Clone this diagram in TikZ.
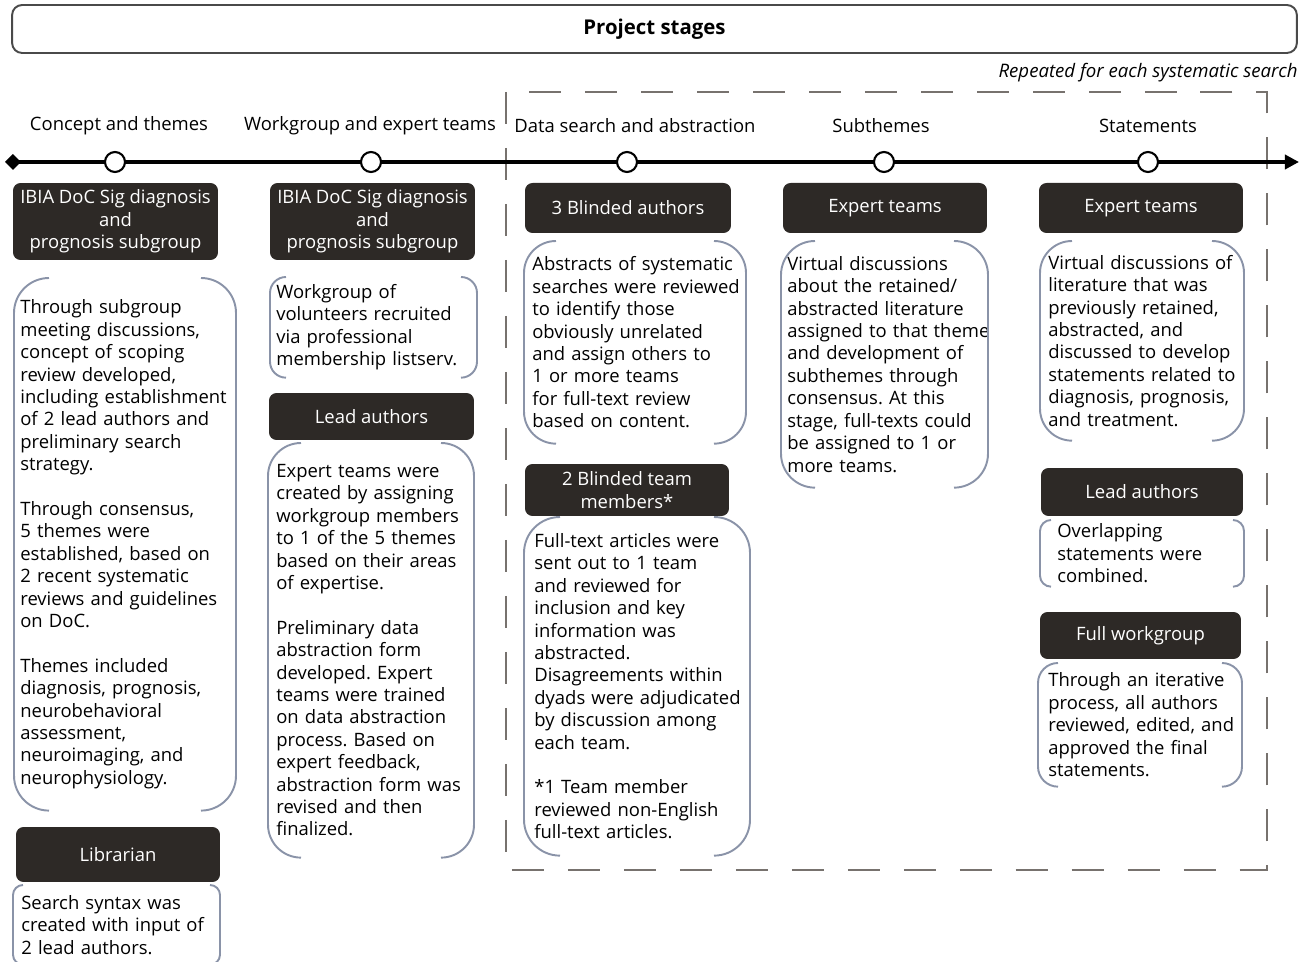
\documentclass[tikz,border=0pt]{standalone}
\usepackage{fontspec}
\setmainfont{Open Sans}
\usetikzlibrary{positioning, arrows.meta, calc}
\definecolor{boxdark}{HTML}{2D2926}
\definecolor{brkgray}{HTML}{8A93A8}
\definecolor{dashgray}{HTML}{77726E}
\definecolor{framegray}{HTML}{4A4A4A}
\frenchspacing
\tikzset{
  darkbox/.style={fill=boxdark, text=white, rounded corners=0.15cm, align=center, inner sep=0pt},
  brkbox/.style={align=left, inner sep=0pt, anchor=north west},
  brk/.style={draw=brkgray, line width=1.1pt},
  stagedot/.style={draw, circle, fill=white, line width=1.2pt, minimum size=0.4cm, inner sep=0pt},
  stagelabel/.style={inner sep=0pt}
}
% brackets round a text node: name, radius, left gap, full width
\newcommand{\brackets}[4]{%
  \draw[brk] ($(#1.north west)+(-#3+#2,0)$) arc[start angle=90, end angle=180, radius=#2]
    -- ($(#1.south west)+(-#3,#2)$) arc[start angle=180, end angle=270, radius=#2];
  \draw[brk] ($(#1.north west)+(#4-#3-#2,0)$) arc[start angle=90, end angle=0, radius=#2]
    -- ($(#1.south west)+(#4-#3,#2)$) arc[start angle=0, end angle=-90, radius=#2];
}
\begin{document}
\begin{tikzpicture}[x=0.02cm, y=0.02cm, font=\fontsize{10.5}{12.75}\selectfont]
    \useasboundingbox (0,0) rectangle (1299,-962);

    %% header
    \node[draw=framegray, line width=1.1pt, rounded corners=0.2cm, minimum width=25.7cm, minimum height=0.96cm,
          font=\fontsize{11.6}{13}\selectfont\bfseries] (title) at (654.5,-29) {Project stages};
    \node[anchor=east, inner sep=0pt, font=\fontsize{10.6}{12.75}\selectfont\itshape] (repeat) at (1298,-73)
          {Repeated for each systematic search};
    \draw[dashgray, line width=1.1pt, dash pattern=on 0.64cm off 0.48cm] (506,-92) rectangle (1267,-870);

    %% timeline
    \coordinate (tlstart) at (5,-162);
    \coordinate (tlend) at (1299,-162);
    \draw[line width=2.2pt, {Diamond[length=9pt, width=9pt]}-{Triangle[length=8pt, width=8pt]}] (tlstart) -- (tlend);
    \node[stagedot] (dot1) at (115,-162) {};
    \node[stagedot] (dot2) at (371,-162) {};
    \node[stagedot] (dot3) at (627,-162) {};
    \node[stagedot] (dot4) at (884,-162) {};
    \node[stagedot] (dot5) at (1148,-162) {};
    \node[stagelabel] (lab1) at (119,-126) {Concept and themes};
    \node[stagelabel] (lab2) at (370,-126) {Workgroup and expert teams};
    \node[stagelabel, anchor=west] (lab3) at (514,-126) {Data search and abstraction};
    \node[stagelabel] (lab4) at (881,-126) {Subthemes};
    \node[stagelabel] (lab5) at (1148,-126) {Statements};

    %% concept and themes
    \node[darkbox, minimum width=4.1cm, minimum height=1.54cm] (ibia1) at (115.5,-221.5)
        {IBIA DoC Sig diagnosis\\and\\prognosis subgroup};
    \node[brkbox, text width=4.3cm, minimum height=10.64cm] (themes) at (20,-278)
        {Through subgroup\\meeting discussions,\\concept of scoping\\review developed,\\including establishment\\of 2 lead authors and\\preliminary search\\strategy.\\[\baselineskip]
         Through consensus,\\5 themes were\\established, based on\\2 recent systematic\\reviews and guidelines\\on DoC.\\[\baselineskip]
         Themes included\\diagnosis, prognosis,\\neurobehavioral\\assessment,\\neuroimaging, and\\neurophysiology.};
    \brackets{themes}{35}{6}{222}
    \node[darkbox, minimum width=4.08cm, minimum height=1.1cm] (librarian) at (118,-854.5) {Librarian};
    \node[brkbox, text width=4.0cm, minimum height=1.58cm] (syntax) at (21,-885)
        {Search syntax was\\created with input of\\2 lead authors.};
    \brackets{syntax}{10}{8}{207}

    %% workgroup and expert teams
    \node[darkbox, minimum width=4.1cm, minimum height=1.54cm] (ibia2) at (372.5,-221.5)
        {IBIA DoC Sig diagnosis\\and\\prognosis subgroup};
    \node[brkbox, text width=4.0cm, minimum height=2.0cm] (volunteers) at (276,-277)
        {Workgroup of\\volunteers recruited\\via professional\\membership listserv.};
    \brackets{volunteers}{16}{6}{207}
    \node[darkbox, minimum width=4.1cm, minimum height=0.94cm] (lead2) at (371.5,-416.5) {Lead authors};
    \node[brkbox, text width=4.0cm, minimum height=8.28cm] (experts) at (276,-443)
        {Expert teams were\\created by assigning\\workgroup members\\to 1 of the 5 themes\\based on their areas\\of expertise.\\[\baselineskip]
         Preliminary data\\abstraction form\\developed. Expert\\teams were trained\\on data abstraction\\process. Based on\\expert feedback,\\abstraction form was\\revised and then\\finalized.};
    \brackets{experts}{33}{8}{206}

    %% data search and abstraction
    \node[darkbox, minimum width=4.12cm, minimum height=1.0cm] (blind3) at (628,-208) {3 Blinded authors};
    \node[brkbox, text width=4.3cm, minimum height=4.04cm] (abstracts) at (532,-241)
        {Abstracts of systematic\\searches were reviewed\\to identify those\\obviously unrelated\\and assign others to\\1 or more teams\\for full-text review\\based on content.};
    \brackets{abstracts}{32}{8}{222}
    \node[darkbox, minimum width=4.08cm, minimum height=1.04cm] (blind2) at (627,-490) {2 Blinded team\\members*};
    \node[brkbox, text width=4.3cm, minimum height=6.76cm] (fulltext) at (534,-517)
        {Full-text articles were\\sent out to 1 team\\and reviewed for\\inclusion and key\\information was\\abstracted.\\Disagreements within\\dyads were adjudicated\\by discussion among\\each team.\\[\baselineskip]
         *1 Team member\\reviewed non-English\\full-text articles.};
    \brackets{fulltext}{36}{10}{226}

    %% subthemes
    \node[darkbox, minimum width=4.08cm, minimum height=1.0cm] (expert4) at (885,-208) {Expert teams};
    \node[brkbox, text width=4.2cm, minimum height=4.92cm] (virtual4) at (787,-241)
        {Virtual discussions\\about the retained/\\abstracted literature\\assigned to that theme\\and development of\\subthemes through\\consensus. At this\\stage, full-texts could\\be assigned to 1 or\\more teams.};
    \brackets{virtual4}{34}{6}{207}

    %% statements
    \node[darkbox, minimum width=4.08cm, minimum height=1.0cm] (expert5) at (1141,-208) {Expert teams};
    \node[brkbox, text width=4.1cm, minimum height=3.98cm] (virtual5) at (1048,-241)
        {Virtual discussions of\\literature that was\\previously retained,\\abstracted, and\\discussed to develop\\statements related to\\diagnosis, prognosis,\\and treatment.};
    \brackets{virtual5}{32}{8}{204}
    \node[darkbox, minimum width=4.04cm, minimum height=0.96cm] (lead5) at (1142,-492) {Lead authors};
    \node[brkbox, text width=3.8cm, minimum height=1.32cm] (overlap) at (1057,-520)
        {Overlapping\\statements were\\combined.};
    \brackets{overlap}{11}{17}{204}
    \node[darkbox, minimum width=4.02cm, minimum height=0.94cm] (full5) at (1140.5,-635.5) {Full workgroup};
    \node[brkbox, text width=4.0cm, minimum height=2.46cm] (iterative) at (1048,-663)
        {Through an iterative\\process, all authors\\reviewed, edited, and\\approved the final\\statements.};
    \brackets{iterative}{20}{10}{204}
\end{tikzpicture}
\end{document}
